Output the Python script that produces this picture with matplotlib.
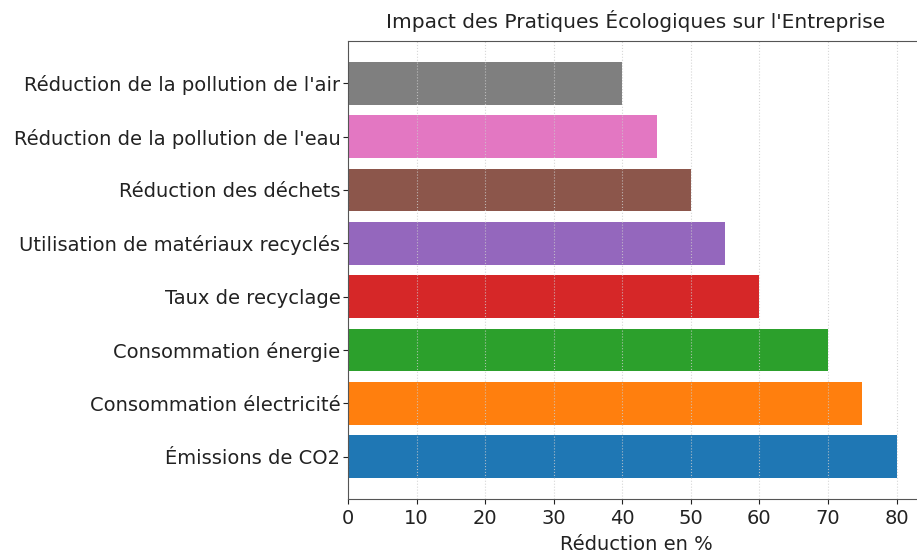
import matplotlib
matplotlib.use("Agg")
import matplotlib.pyplot as plt

categories = [
    "Émissions de CO2",
    "Consommation électricité",
    "Consommation énergie",
    "Taux de recyclage",
    "Utilisation de matériaux recyclés",
    "Réduction des déchets",
    "Réduction de la pollution de l'eau",
    "Réduction de la pollution de l'air",
]
values = [80, 75, 70, 60, 55, 50, 45, 40]
colors = ["#1f77b4", "#ff7f0e", "#2ca02c", "#d62728",
          "#9467bd", "#8c564b", "#e377c2", "#7f7f7f"]
xticks = [0, 10, 20, 30, 40, 50, 60, 70, 80]

plt.rcParams["font.family"] = ["DejaVu Sans"]

fig = plt.figure(figsize=(9.17, 5.54), dpi=100)
W, H = 917, 554
left, right, top, bottom = 348, 924, 41, 499
ax = fig.add_axes([left / W, 1 - bottom / H, (right - left) / W, (bottom - top) / H])

ax.barh(categories, values, color=colors, height=0.8)
ax.set_xlim(0, 84)
ax.set_xticks(xticks)
ax.grid(axis="x", linestyle=":", color="#cccccc", linewidth=0.8, alpha=0.8)
ax.tick_params(axis="both", labelsize=14, colors="#222222", length=3.5, width=0.8)
ax.tick_params(axis="y", pad=2)
for s in ax.spines.values():
    s.set_color("#555555")
    s.set_linewidth(0.8)

ax.set_xlabel("Réduction en %", fontsize=14, color="#222222", labelpad=5)
ax.set_title("Impact des Pratiques Écologiques sur l'Entreprise",
             fontsize=14.5, color="#222222", pad=9)

fig.savefig("out.png", dpi=100)
